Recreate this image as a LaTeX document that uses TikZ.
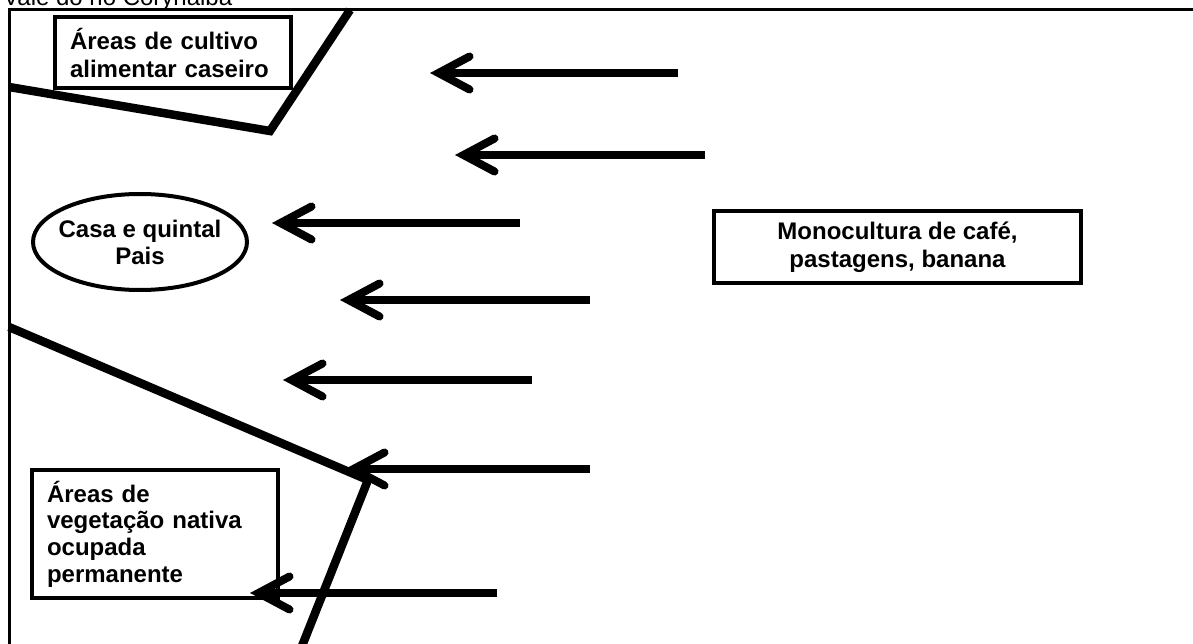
\documentclass[tikz,border=0pt]{standalone}
\usepackage{fontspec}
\setmainfont{Liberation Sans}
\usetikzlibrary{arrows.meta,shapes.geometric}
\tikzset{
  boxlbl/.style={draw=black, line width=4pt, rectangle, inner sep=0pt, font=\fontsize{24}{28}\selectfont\bfseries},
  ovallbl/.style={draw=black, line width=4pt, ellipse, inner xsep=-7pt, inner ysep=0pt, font=\fontsize{24}{27}\selectfont\bfseries, align=center},
  border/.style={line width=8.5pt, line join=miter},
  frameline/.style={line width=3pt},
  flow/.style={line width=8pt, -{Straight Barb[length=31pt, width=33pt, line cap=round, line join=miter]}},
}
\begin{document}
\begin{tikzpicture}[x=1pt,y=-1pt]
\useasboundingbox (0,0) rectangle (1193,644);
\fill[white] (0,0) rectangle (1193,644);
% title (partly cut at top, as in the reference)
\node[anchor=base west, inner sep=0pt, font=\fontsize{24}{28}\selectfont] (title) at (3,6) {Vale do rio Corynaiba};
% frame
\coordinate (fTL) at (9,10);
\coordinate (fTR) at (1194,10);
\coordinate (fBL) at (9,645);
\draw[frameline] (fBL) -- (fTL) -- (fTR);
% boxes
\node[boxlbl, minimum width=236pt, minimum height=71pt, text width=206pt, align=left] (cultivo) at (173,52.5) {Áreas de cultivo\\alimentar caseiro};
\node[ovallbl, minimum width=214pt, minimum height=96pt] (casa) at (140,242) {Casa e quintal\\Pais};
\node[boxlbl, minimum width=367pt, minimum height=72pt, align=center] (mono) at (897.5,247) {Monocultura de café,\\pastagens, banana};
\node[boxlbl, minimum width=246pt, minimum height=128pt, text width=216pt, align=left, font=\fontsize{24}{26.7}\selectfont\bfseries] (nativa) at (155,534) {Áreas de\\vegetação nativa\\ocupada\\permanente};
% boundaries
\coordinate (u1) at (9,87);
\coordinate (u2) at (270,131);
\coordinate (u3) at (350,10);
\draw[border] (u1) -- (u2) -- (u3);
\coordinate (l1) at (9,327);
\coordinate (l2) at (368,480);
\coordinate (l3) at (302,646);
\draw[border] (l1) -- (l2) -- (l3);
% arrows
\coordinate (a1s) at (678,73);  \coordinate (a1e) at (430,73);
\coordinate (a2s) at (705,155); \coordinate (a2e) at (455,155);
\coordinate (a3s) at (520,223); \coordinate (a3e) at (272,223);
\coordinate (a4s) at (590,300); \coordinate (a4e) at (340,300);
\coordinate (a5s) at (532,380); \coordinate (a5e) at (283,380);
\coordinate (a6s) at (590,469); \coordinate (a6e) at (345,469);
\coordinate (a7s) at (497,593); \coordinate (a7e) at (250,593);
\foreach \i in {1,...,7} \draw[flow] (a\i s) -- (a\i e);
\end{tikzpicture}
\end{document}
